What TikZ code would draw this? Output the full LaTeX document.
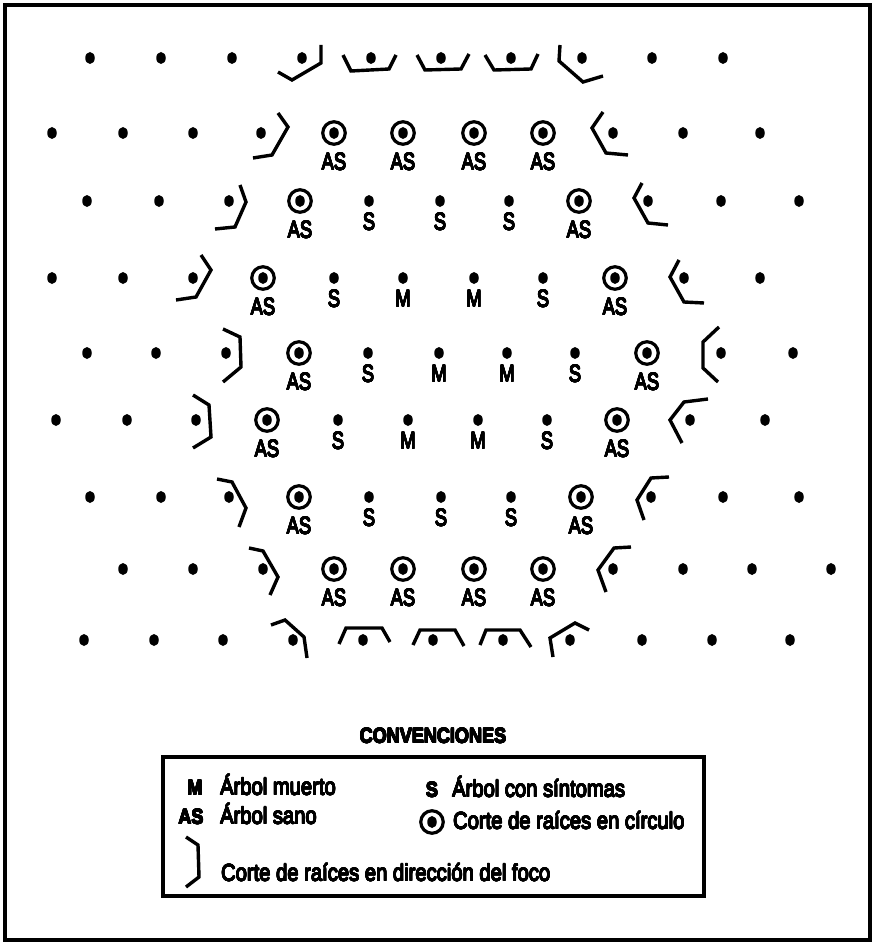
\documentclass[tikz,border=0pt]{standalone}
\usepackage{fontspec}
\usepackage{contour}
\contourlength{0.4pt}
\contournumber{16}
\setmainfont{Liberation Sans}
\newfontfamily\labfont{Liberation Sans}[FakeStretch=0.76]
\newfontfamily\legfont{Liberation Sans}[FakeStretch=0.86]
\newcommand{\thk}[1]{\contour{black}{#1}}
\usetikzlibrary{shapes.geometric}
\begin{document}
\begin{tikzpicture}[x=1pt,y=-1pt,
  tree/.style={ellipse,fill=black,inner sep=0pt,minimum width=9.5pt,minimum height=12pt},
  ring/.style={circle,draw=black,line width=3.2pt,inner sep=0pt,minimum size=22.5pt},
  lab/.style={font=\labfont\fontsize{24}{24}\selectfont,inner sep=0pt},
  cut/.style={draw=black,line width=3.4pt,line join=miter,line cap=butt},
  legtxt/.style={font=\legfont\fontsize{23.5}{23.5}\selectfont,inner sep=0pt,anchor=base west},
  legsym/.style={font=\legfont\bfseries\fontsize{21}{21}\selectfont,inner sep=0pt,anchor=base},
  frame/.style={draw=black,line width=3.8pt}]
\useasboundingbox (0,0) rectangle (876,944);
\draw[frame] (5,5) rectangle (870,940);
% trees (all positions)
\foreach \yy/\xs [count=\r] in {
  58/{90,161,232,302,371,441,511,582,652,723},
  133/{52,123,193,261,334,403,474,543,613,683,760},
  201/{87,159,229,300,369,440,509,579,648,721,799},
  278/{52,123,193,263,334,403,474,543,615,684,760},
  353/{87,156,226,299,368,439,507,575,647,721,793},
  420/{56,127,196,267,338,408,478,547,617,690,765},
  497/{90,161,229,299,369,441,511,581,651,723,799},
  569/{123,193,263,334,403,474,543,613,683,752,831},
  640/{84,154,223,293,363,433,503,570,642,712,790}}{
  \foreach \xx [count=\c] in \xs {\node[tree] (t\r-\c) at (\xx,\yy) {};}
}
% healthy trees with circular root cut
\foreach \xx/\yy [count=\k] in {334/133,403/133,474/133,543/133,
  300/201,579/201, 263/278,615/278, 299/353,647/353, 267/420,617/420,
  299/497,581/497, 334/569,403/569,474/569,543/569}{
  \node[ring] (c\k) at (\xx,\yy) {};
  \node[lab] (as\k) at (\xx,\yy+29) {\thk{AS}};
}
% trees with symptoms
\foreach \xx/\yy [count=\k] in {369/201,440/201,509/201, 334/278,543/278,
  368/353,575/353, 338/420,547/420, 369/497,441/497,511/497}{
  \node[lab] (s\k) at (\xx,\yy+21) {\thk{S}};
}
% dead trees
\foreach \xx/\yy [count=\k] in {403/278,474/278, 439/353,507/353, 408/420,478/420}{
  \node[lab] (m\k) at (\xx,\yy+21) {\thk{M}};
}
% root cuts towards the focus
\draw[cut] (321,45) -- (321,63) -- (292,80) -- (278,72);
\draw[cut] (343,55) -- (351,71) -- (389,69) -- (396,55);
\draw[cut] (417,55) -- (425,70) -- (461,69) -- (469,54);
\draw[cut] (485,55) -- (494,70) -- (531,69) -- (538,54);
\draw[cut] (560,45) -- (559,61) -- (583,82) -- (603,76);
\draw[cut] (278,113) -- (288,127) -- (272,155) -- (253,158);
\draw[cut] (603,112) -- (592,128) -- (606,153) -- (628,155);
\draw[cut] (240,185) -- (246,202) -- (235,227) -- (215,229);
\draw[cut] (642,183) -- (634,198) -- (648,223) -- (668,225);
\draw[cut] (201,255) -- (211,270) -- (196,297) -- (176,300);
\draw[cut] (679,260) -- (670,277) -- (684,302) -- (704,303);
\draw[cut] (223,329) -- (240,337) -- (241,367) -- (223,382);
\draw[cut] (719,327) -- (703,342) -- (703,368) -- (718,382);
\draw[cut] (193,395) -- (209,405) -- (211,437) -- (193,448);
\draw[cut] (708,399) -- (684,402) -- (670,420) -- (682,443);
\draw[cut] (217,479) -- (232,482) -- (246,508) -- (239,527);
\draw[cut] (669,477) -- (651,478) -- (637,500) -- (644,520);
\draw[cut] (249,548) -- (263,551) -- (278,577) -- (270,595);
\draw[cut] (631,547) -- (614,548) -- (598,570) -- (606,592);
\draw[cut] (271,625) -- (285,620) -- (304,637) -- (307,658);
\draw[cut] (339,644) -- (346,628) -- (382,628) -- (390,642);
\draw[cut] (413,645) -- (420,630) -- (455,630) -- (464,646);
\draw[cut] (480,645) -- (486,630) -- (520,630) -- (531,647);
\draw[cut] (553,657) -- (550,638) -- (575,623) -- (589,630);
% legend
\node[legsym,anchor=center] (conv) at (433,736) {\thk{CONVENCIONES}};
\node[draw=black,line width=3.2pt,inner sep=0pt,minimum width=541pt,minimum height=139pt] (leg) at (433.5,826.5) {};
\node[legsym] (lm) at (195,795) {\thk{M}};
\node[legtxt] (lmt) at (220,795) {\thk{Árbol muerto}};
\node[legsym] (las) at (191,824) {\thk{AS}};
\node[legtxt] (last) at (220,824) {\thk{Árbol sano}};
\node[legsym] (ls) at (432,797) {\thk{S}};
\node[legtxt] (lst) at (452,797) {\thk{Árbol con síntomas}};
\node[ring] (lc) at (432,822) {};
\node[tree] (lcd) at (432,822) {};
\node[legtxt] (lct) at (453,829) {\thk{Corte de raíces en círculo}};
\draw[cut] (186,837) -- (198,845) -- (199,877) -- (186,887);
\node[legtxt] (lbt) at (221,881) {\thk{Corte de raíces en dirección del foco}};
\end{tikzpicture}
\end{document}
